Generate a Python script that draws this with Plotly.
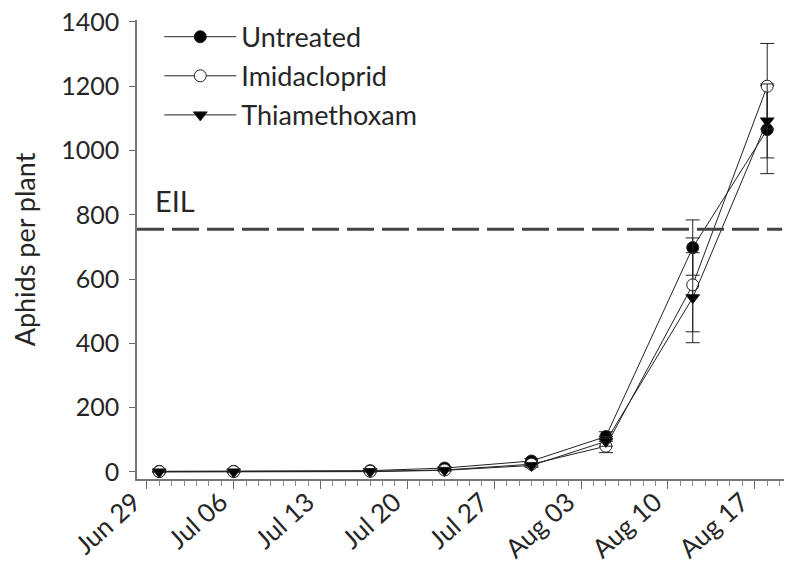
import plotly.graph_objects as go

# sampling dates and mean aphids per plant (+/- SE)
dates = ["2015-06-30", "2015-07-06", "2015-07-17", "2015-07-23",
         "2015-07-30", "2015-08-05", "2015-08-12", "2015-08-18"]

untreated = [2, 2, 4, 12, 34, 110, 698, 1065]
untreated_err = [1, 1, 2, 4, 8, 15, 86, 137]

imidacloprid = [1, 1, 2, 6, 24, 80, 582, 1200]
imidacloprid_err = [1, 1, 1, 3, 6, 20, 146, 133]

thiamethoxam = [0, 0, 1, 5, 20, 95, 542, 1092]
thiamethoxam_err = [0, 0, 1, 2, 5, 15, 140, 115]

EIL = 755

TXT = "#262626"
FONT = "Lato"

series = [
    ("Untreated", untreated, untreated_err, "circle", "black"),
    ("Imidacloprid", imidacloprid, imidacloprid_err, "circle", "white"),
    ("Thiamethoxam", thiamethoxam, thiamethoxam_err, "triangle-down", "black"),
]

fig = go.Figure()
for name, y, err, sym, fill in series:
    fig.add_trace(go.Scatter(
        name=name, x=dates, y=y, mode="lines+markers", legendgroup=name,
        line=dict(color="#222", width=1),
        marker=dict(symbol=sym, size=12, color=fill,
                    line=dict(color="#222", width=1)),
        error_y=dict(type="data", array=err, color="#222",
                     thickness=1, width=7),
    ))

# economic injury level
fig.add_shape(type="line", xref="paper", x0=0, x1=0.985, yref="y",
              y0=EIL, y1=EIL, line=dict(color="#444", width=3, dash="27px,8px"))
fig.add_annotation(xref="paper", x=0.025, yref="y", y=EIL, text="EIL",
                   showarrow=False, xanchor="left", yanchor="bottom", yshift=9,
                   font=dict(size=29, color=TXT, family=FONT))

# page body has an 8px margin, so the figure is a bit smaller than the window
fig.update_layout(
    width=784, height=557,
    margin=dict(l=129, r=0, t=12, b=86),
    plot_bgcolor="white", paper_bgcolor="white",
    font=dict(family=FONT, color=TXT, size=24),
    showlegend=True,
    legend=dict(x=0.034, y=1.016, xanchor="left", yanchor="top",
                bgcolor="rgba(0,0,0,0)", itemwidth=72,
                font=dict(size=27, family=FONT, color=TXT),
                tracegroupgap=1),
)

fig.update_xaxes(
    type="date", range=["2015-06-28 05:00", "2015-08-20"],
    tick0="2015-06-29", dtick=7 * 86400000, tickformat="%b %d",
    tickangle=-42, ticks="outside", ticklen=8, tickcolor="#666",
    ticklabelstandoff=-12, ticklabelshift=-13,
    showline=True, linecolor="#777", linewidth=1.5,
    showgrid=False, zeroline=False, automargin=False,
    tickfont=dict(size=26, family=FONT, color=TXT),
    minor=dict(dtick=86400000, ticks="outside", ticklen=5, tickcolor="#888",
               showgrid=False),
)
fig.update_yaxes(
    range=[-22, 1406], tick0=0, dtick=200,
    ticks="outside", ticklen=6, tickcolor="#666", ticklabelstandoff=5,
    ticklabeloverflow="allow",
    showline=True, linecolor="#777", linewidth=1.5,
    showgrid=False, zeroline=False, automargin=False,
    tickfont=dict(size=25, family=FONT, color=TXT),
    title=dict(text="Aphids per plant", font=dict(size=27, family=FONT, color=TXT),
               standoff=20),
)

fig.write_html("out.html")
